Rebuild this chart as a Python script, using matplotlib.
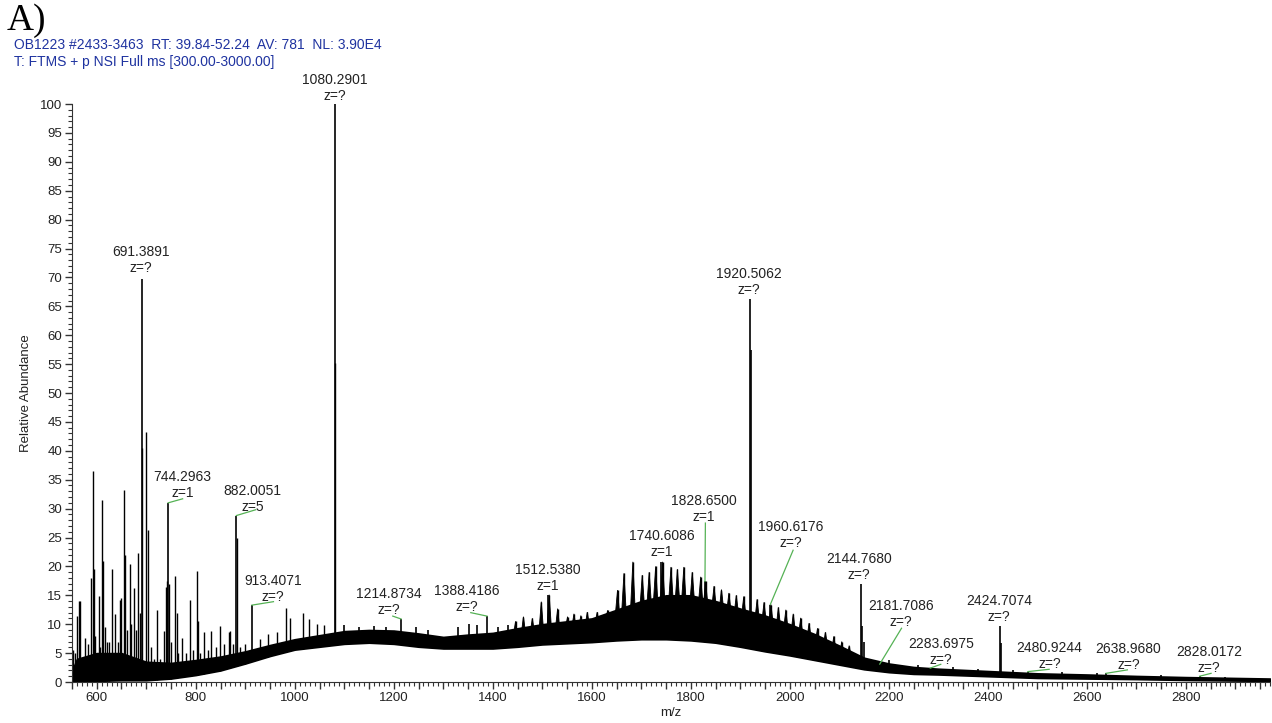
import numpy as np
import matplotlib.pyplot as plt
from matplotlib.ticker import MultipleLocator, FuncFormatter

plt.rcParams['font.family'] = ['Liberation Sans', 'DejaVu Sans']

# chemical-noise hump: lower and upper edge of the dense trace
band_mz = [550, 560, 600, 650, 700, 750, 800, 850, 900, 950, 1000, 1050, 1100,
           1150, 1200, 1250, 1300, 1350, 1400, 1450, 1500, 1550, 1600, 1650,
           1700, 1750, 1800, 1850, 1900, 1950, 2000, 2050, 2100, 2150, 2200,
           2250, 2300, 2400, 2500, 2600, 2700, 2800, 2900, 2970]
band_low = [0, 0, 0.2, 0.3, 0.3, 0.6, 1.2, 2.0, 3.2, 4.5, 5.6, 6.1, 6.6,
            6.8, 6.6, 6.1, 5.8, 5.8, 5.8, 6.1, 6.5, 6.7, 6.9, 7.2,
            7.4, 7.4, 7.2, 6.8, 6.1, 5.3, 4.6, 3.8, 3.0, 2.2, 1.7,
            1.4, 1.3, 1.0, 0.7, 0.6, 0.5, 0.35, 0.25, 0.2]
band_high = [2.0, 4.0, 5.0, 5.0, 3.5, 3.3, 3.8, 4.4, 5.3, 6.4, 7.4, 8.1, 8.8,
             9.0, 8.9, 8.4, 7.8, 8.2, 8.5, 9.3, 10.0, 10.5, 11.0, 12.5,
             14.0, 15.0, 15.0, 14.0, 12.7, 11.5, 10.0, 8.3, 6.3, 4.2, 3.2,
             2.6, 2.3, 1.9, 1.5, 1.3, 1.05, 0.85, 0.7, 0.6]

# unlabelled peaks, low-mass region
low_mz = [553, 557, 561, 564, 566, 570, 576, 583, 588, 591.5, 594, 597, 603.6,
          607, 610.4, 612, 617, 621, 624, 631, 637.5, 643, 647.5, 650, 655.6,
          658, 662, 666.4, 670, 674.5, 679, 683.3, 687, 692.4, 700.2, 703, 710,
          716, 721.8, 728, 735, 740, 742, 745.3, 749, 758.9, 762, 765, 772.4,
          780, 787.9, 795, 802.8, 805, 809, 816.3, 824, 831.8, 840, 848, 858,
          867, 870, 875, 883, 890, 900, 930, 945, 963.6, 983, 991, 1016, 1028,
          1045, 1060, 1081.3]
low_int = [5.5, 5, 11.5, 14, 14.1, 4, 7.7, 6.5, 18, 36.5, 19.5, 8, 14.8,
           6, 31.5, 21, 9.5, 7, 7, 19.5, 11.8, 7, 14.2, 14.6, 33.3,
           21.9, 9, 20.4, 10, 16.2, 9, 22.4, 12, 40.5, 43.2, 26.3, 6,
           4, 12.4, 4, 8.9, 16.5, 17.4, 17, 7, 18.3, 12, 5, 7.7,
           5, 14.2, 5.5, 19.2, 10.5, 5, 8.6, 5.5, 8.9, 6, 9.7, 6.5,
           8.6, 8.9, 6.5, 25, 6, 6.5, 7.5, 8.3, 8.7, 12.8, 11.1, 12, 10.9,
           10, 9.8, 55.2]

# noise peaks on the hump (1100-1450) and the high-mass tail
noise_mz = [1100, 1130, 1160, 1185, 1245, 1270, 1330, 1351, 1368, 1410, 1430,
            1921.5, 2146, 2150, 2200, 2260, 2330, 2380, 2425.7, 2450, 2550,
            2620, 2750, 2880]
noise_int = [9.8, 9.6, 9.7, 9.5, 9.5, 9.0, 9.5, 10, 9.8, 9.5, 9.8,
             57.5, 9.7, 7.0, 3.8, 2.9, 2.6, 2.3, 6.7, 2.0, 1.7,
             1.6, 1.2, 0.9]

# comb of cluster peaks riding on the hump (1440-2130)
comb_mz = [1446, 1462, 1480, 1498, 1514, 1531, 1551, 1564, 1578, 1591, 1611,
           1632, 1652, 1665, 1683, 1702, 1716, 1729, 1743, 1760, 1773, 1786,
           1803, 1820, 1830, 1847, 1862, 1877, 1892, 1907, 1934, 1948, 1962,
           1977, 1992, 2007, 2022, 2039, 2056, 2072, 2089, 2105, 2120]
comb_int = [10.5, 11.3, 11.0, 13.9, 15.1, 12.7, 11.3, 11.8, 11.5, 12.1, 12.1,
            12.4, 15.9, 18.8, 20.8, 18.5, 19.0, 20.0, 20.8, 19.9, 19.5, 19.9,
            19.0, 18.2, 17.4, 16.6, 16.0, 15.4, 15.0, 14.8, 14.3, 13.8, 13.4,
            12.9, 12.5, 11.8, 11.1, 10.2, 9.3, 8.6, 7.9, 7.0, 6.3]

# labelled peaks
lab_mz = [691.3891, 1080.2901, 744.2963, 882.0051, 913.4071, 1214.8734,
          1388.4186, 1512.5380, 1740.6086, 1828.6500, 1920.5062, 1960.6176,
          2144.7680, 2181.7086, 2283.6975, 2424.7074, 2480.9244, 2638.9680,
          2828.0172]
lab_int = [69.8, 100, 31.0, 28.8, 13.3, 10.9, 11.4, 15.1, 20.8, 17.4, 66.3,
           13.4, 17.0, 3.1, 2.4, 9.7, 1.8, 1.5, 1.0]
lab_text = ['691.3891', '1080.2901', '744.2963', '882.0051', '913.4071',
            '1214.8734', '1388.4186', '1512.5380', '1740.6086', '1828.6500',
            '1920.5062', '1960.6176', '2144.7680', '2181.7086', '2283.6975',
            '2424.7074', '2480.9244', '2638.9680', '2828.0172']
lab_z = ['z=?', 'z=?', 'z=1', 'z=5', 'z=?', 'z=?', 'z=?', 'z=1', 'z=1', 'z=1',
         'z=?', 'z=?', 'z=?', 'z=?', 'z=?', 'z=?', 'z=?', 'z=?', 'z=?']

# label placement (centre of the "z=" line) and green leader start
lab_x = [688.9, 1080.8, 773.7, 915.2, 955.6, 1190, 1347.5, 1511, 1741.4, 1826,
         1917, 2002, 2140, 2224, 2305, 2422.8, 2525, 2684, 2847]
lab_y = [71.6, 101.4, 32.7, 30.3, 14.7, 12.5, 13.0, 16.6, 22.5, 28.6,
         67.8, 24.0, 18.5, 10.4, 3.8, 11.2, 3.1, 3.0, 2.4]
lead_x = [None, None, 773.5, 921, 957, 1198, 1355.6, None, None, 1829.5,
          None, 2006.7, None, 2225.7, 2305, None, 2524, 2682, 2851]
lead_y = [None, None, 31.7, 29.8, 13.9, 11.4, 12.0, None, None, 27.5,
          None, 22.8, None, 9.3, 3.06, None, 2.2, 2.1, 1.5]

fig = plt.figure(figsize=(12.72, 7.23), dpi=100)
ax = fig.add_axes([0.0566, 0.0567, 0.9418, 0.7994])

ax.fill_between(band_mz, band_low, band_high, color='black', lw=1.2)

# sticks start on the lower edge of the trace
ax.vlines(low_mz, np.interp(low_mz, band_mz, band_low), low_int,
          color='black', lw=1.0)
ax.vlines(noise_mz, np.interp(noise_mz, band_mz, band_low), noise_int,
          color='black', lw=1.2)
ax.vlines(lab_mz, np.interp(lab_mz, band_mz, band_low), lab_int,
          color='black', lw=1.2)

# clusters drawn as narrow teeth on top of the hump
half_w = 5
comb_base = np.interp(comb_mz, band_mz, band_high) - 1.5
for m, h, b in zip(comb_mz, comb_int, comb_base):
    ax.fill([m - half_w, m, m + half_w], [b, h, b], color='black', lw=0.6)
ax.vlines(comb_mz, comb_base, comb_int, color='black', lw=1.0)

for i in range(len(lab_mz)):
    ax.annotate(lab_z[i], (lab_x[i], lab_y[i]), ha='center', va='center',
                fontsize=10, color='#222222', annotation_clip=False)
    ax.annotate(lab_text[i], (lab_x[i], lab_y[i]), xytext=(0, 11.5),
                textcoords='offset points', ha='center', va='center',
                fontsize=10, color='#222222', annotation_clip=False)
    if lead_x[i] is not None:
        ax.plot([lab_mz[i], lead_x[i]], [lab_int[i], lead_y[i]],
                color='#55b255', lw=0.9, clip_on=False)

ax.set_xlim(550, 2970)
ax.set_ylim(0, 100)
ax.spines['top'].set_visible(False)
ax.spines['right'].set_visible(False)
ax.spines['left'].set_color('#333333')
ax.spines['bottom'].set_color('#333333')

ax.yaxis.set_major_locator(MultipleLocator(5))
ax.yaxis.set_minor_locator(MultipleLocator(1))
ax.xaxis.set_major_locator(MultipleLocator(50))
ax.xaxis.set_minor_locator(MultipleLocator(10))
ax.xaxis.set_major_formatter(FuncFormatter(lambda v, p: '%d' % v if v % 200 == 0 else ''))
ax.tick_params(which='major', length=5, width=1, color='#333333',
               labelsize=9.5, labelcolor='#222222', pad=2)
ax.tick_params(which='minor', length=3, width=0.8, color='#333333')

ax.set_xlabel('m/z', fontsize=9.5, color='#222222', labelpad=2)
ax.set_ylabel('Relative Abundance', fontsize=9.5, color='#222222', labelpad=6)

fig.text(7 / 1272, 1 - 21 / 723, 'A)', fontsize=27, family='Liberation Serif',
         va='center', ha='left')
fig.text(14 / 1272, 1 - 45 / 723,
         'OB1223 #2433-3463  RT: 39.84-52.24  AV: 781  NL: 3.90E4',
         fontsize=10, color='#1f33a0', va='center', ha='left')
fig.text(14 / 1272, 1 - 62 / 723, 'T: FTMS + p NSI Full ms [300.00-3000.00]',
         fontsize=10, color='#1f33a0', va='center', ha='left')

fig.savefig('out.png', dpi=100)
